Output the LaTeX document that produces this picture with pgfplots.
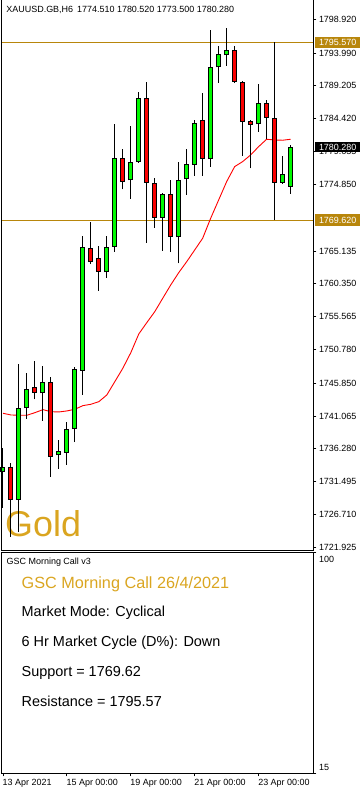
\documentclass[border=0pt]{standalone}
\usepackage{fontspec}
\setmainfont{Liberation Sans}
\usepackage{pgfplots}
\pgfplotsset{compat=1.18}
\definecolor{cgreen}{RGB}{0,250,0}
\definecolor{cred}{RGB}{250,0,0}
\definecolor{dgold}{RGB}{184,134,11}
\definecolor{gold}{RGB}{218,165,32}
\newcommand{\sm}{\fontsize{9}{11}\selectfont}
% candle: index, open, high, low, close, colour
\newcommand{\cdl}[6]{%
  \addplot[black, line width=1bp] coordinates {(#1,#4) (#1,#3)};
  \addplot[black, line width=5bp] coordinates {(#1,#2) (#1,#5)};
  \addplot[#6, line width=3bp, shorten <=1bp, shorten >=1bp] coordinates {(#1,#2) (#1,#5)};
}
\begin{document}
\begin{tikzpicture}[x=1bp,y=1bp]
\path[use as bounding box] (0,0) rectangle (363,793);
\node[anchor=base west, inner sep=0pt, text=gold, font=\fontsize{36}{40}\selectfont] at (5,256.5) {Gold};
\begin{axis}[
  at={(1.5bp,242.7bp)}, anchor=south west, scale only axis,
  width=311.8bp, height=550.3bp,
  xmin=-0.1875, xmax=38.85, ymin=1721.49, ymax=1801.73,
  axis line style={draw=none}, xtick=\empty,
  ytick={1798.92,1793.99,1789.205,1784.42,1779.635,1774.85,1765.135,1760.35,1755.565,1750.78,1745.85,1741.065,1736.28,1731.495,1726.71,1721.925},
  yticklabels={1798.920,1793.990,1789.205,1784.420,1779.635,1774.850,1765.135,1760.350,1755.565,1750.780,1745.850,1741.065,1736.280,1731.495,1726.710,1721.925},
  ytick pos=right, yticklabel pos=right,
  tick align=outside, major tick length=3bp, tick style={black, line width=0.8bp},
  yticklabel style={font=\sm, anchor=west, inner sep=0pt, xshift=2.5bp},
  clip=false,
]
\addplot[dgold, line width=1bp] coordinates {(-0.1875,1795.57) (38.85,1795.57)};
\addplot[dgold, line width=1bp] coordinates {(-0.1875,1769.62) (38.85,1769.62)};
\addplot[red, line width=0.9bp] coordinates {
(0,1741.47) (1,1741.22) (2,1741.18) (3,1741.18) (4,1741.56) (5,1742.00) (6,1741.70) (7,1741.66) (8,1741.81) (9,1742.05)
(10,1742.58) (11,1742.78) (12,1743.16) (13,1744.14) (14,1746.08) (15,1748.03) (16,1750.30) (17,1753.03) (18,1754.68) (19,1756.28)
(20,1758.24) (21,1760.18) (22,1761.97) (23,1763.57) (24,1765.28) (25,1766.99) (26,1769.90) (27,1772.57) (28,1775.24) (29,1777.43)
(30,1778.16) (31,1779.13) (32,1780.34) (33,1781.42) (34,1781.32) (35,1781.28) (36,1781.42)};
\cdl{0}{1732.87}{1736.41}{1727.66}{1733.68}{cgreen}
\cdl{1}{1733.68}{1734.25}{1723.48}{1728.83}{cred}
\cdl{2}{1728.83}{1748.66}{1724.21}{1742.20}{cgreen}
\cdl{3}{1742.20}{1747.30}{1740.68}{1744.97}{cgreen}
\cdl{4}{1745.26}{1749.14}{1743.51}{1744.38}{cred}
\cdl{5}{1744.38}{1748.37}{1740.39}{1745.99}{cgreen}
\cdl{6}{1745.99}{1746.72}{1732.22}{1735.05}{cred}
\cdl{7}{1735.34}{1737.58}{1733.39}{1735.97}{cgreen}
\cdl{8}{1735.72}{1740.20}{1733.97}{1739.14}{cgreen}
\cdl{9}{1739.14}{1748.26}{1737.28}{1747.93}{cgreen}
\cdl{10}{1747.68}{1767.37}{1744.14}{1765.67}{cgreen}
\cdl{11}{1765.53}{1769.32}{1763.20}{1763.49}{cred}
\cdl{12}{1764.07}{1765.86}{1759.35}{1762.03}{cred}
\cdl{13}{1762.03}{1767.32}{1761.24}{1765.67}{cgreen}
\cdl{14}{1765.76}{1783.65}{1765.03}{1778.65}{cgreen}
\cdl{15}{1778.65}{1780.01}{1774.13}{1775.24}{cred}
\cdl{16}{1775.44}{1783.36}{1772.76}{1778.07}{cgreen}
\cdl{17}{1778.07}{1788.28}{1777.99}{1787.40}{cgreen}
\cdl{18}{1787.40}{1789.82}{1766.34}{1775.09}{cred}
\cdl{19}{1775.05}{1775.74}{1768.49}{1769.99}{cred}
\cdl{20}{1769.99}{1773.60}{1765.18}{1773.45}{cgreen}
\cdl{21}{1773.45}{1775.49}{1764.95}{1767.13}{cred}
\cdl{22}{1767.13}{1778.07}{1763.34}{1775.49}{cgreen}
\cdl{23}{1775.59}{1780.01}{1773.30}{1777.82}{cgreen}
\cdl{24}{1777.68}{1784.24}{1776.07}{1783.76}{cgreen}
\cdl{25}{1784.24}{1788.13}{1776.07}{1778.51}{cred}
\cdl{26}{1778.51}{1797.36}{1777.43}{1791.92}{cgreen}
\cdl{27}{1791.92}{1795.03}{1789.68}{1793.82}{cgreen}
\cdl{28}{1793.67}{1797.65}{1792.11}{1794.44}{cgreen}
\cdl{29}{1794.44}{1795.03}{1789.60}{1789.73}{cred}
\cdl{30}{1789.73}{1789.88}{1779.03}{1783.99}{cred}
\cdl{31}{1784.05}{1784.24}{1777.19}{1783.55}{cred}
\cdl{32}{1783.61}{1789.49}{1782.53}{1786.67}{cgreen}
\cdl{33}{1786.67}{1787.15}{1781.42}{1784.48}{cred}
\cdl{34}{1784.48}{1795.57}{1769.62}{1775.01}{cred}
\cdl{35}{1775.09}{1779.03}{1774.90}{1776.32}{cgreen}
\cdl{36}{1774.51}{1780.52}{1773.50}{1780.28}{cgreen}
\node[fill=dgold, text=white, anchor=west, inner sep=0pt, minimum height=11bp, minimum width=45bp, font=\sm, xshift=1.7bp] at (axis cs:38.85,1795.57) {1795.570};
\node[fill=dgold, text=white, anchor=west, inner sep=0pt, minimum height=12bp, minimum width=45bp, font=\sm, xshift=1.7bp] at (axis cs:38.85,1769.62) {1769.620};
\node[fill=black, text=white, anchor=west, inner sep=0pt, minimum height=10bp, minimum width=45bp, font=\sm, xshift=1.7bp] at (axis cs:38.85,1780.28) {1780.280};
\end{axis}
% main frame (no top edge)
\draw[black, line width=1bp] (1.5,793) -- (1.5,242.7) -- (313.3,242.7) -- (313.3,793);
\node[anchor=west, inner sep=0pt, font=\sm] at (6.2,783.3) {XAUUSD.GB,H6\hspace{4bp}1774.510 1780.520 1773.500 1780.280};
% indicator sub-window
\begin{axis}[
  at={(1.5bp,19.7bp)}, anchor=south west, scale only axis,
  width=311.8bp, height=221bp,
  xmin=-0.1875, xmax=38.85, ymin=15, ymax=100,
  axis line style={line width=1bp},
  xtick={0,8,16,24,32},
  xticklabels={13 Apr 2021,15 Apr 00:00,19 Apr 00:00,21 Apr 00:00,23 Apr 00:00},
  xtick pos=bottom, ytick={15,100}, yticklabels={}, ytick pos=right,
  tick align=outside, major tick length=3bp, tick style={black, line width=0.8bp},
  xticklabel style={font=\sm, anchor=north west, inner sep=0pt, yshift=-2.5bp, xshift=-0.5bp},
]
\end{axis}
\node[anchor=west, inner sep=0pt, font=\sm] at (319,233.7) {100};
\node[anchor=west, inner sep=0pt, font=\sm] at (319,25.3) {15};
\node[anchor=west, inner sep=0pt, font=\sm] at (6.5,231) {GSC Morning Call v3};
\node[anchor=base west, inner sep=0pt, text=gold, font=\fontsize{16.3}{19}\selectfont] at (21.5,204.7) {GSC Morning Call 26/4/2021};
\node[anchor=base west, inner sep=0pt, font=\fontsize{14.5}{17}\selectfont] at (21.5,176.3) {Market Mode: Cyclical};
\node[anchor=base west, inner sep=0pt, font=\fontsize{14.5}{17}\selectfont] at (21.5,146.3) {6 Hr Market Cycle (D\%): Down};
\node[anchor=base west, inner sep=0pt, font=\fontsize{14.5}{17}\selectfont] at (21.5,116.3) {Support = 1769.62};
\node[anchor=base west, inner sep=0pt, font=\fontsize{14.5}{17}\selectfont] at (21.5,86.3) {Resistance = 1795.57};
\end{tikzpicture}
\end{document}
